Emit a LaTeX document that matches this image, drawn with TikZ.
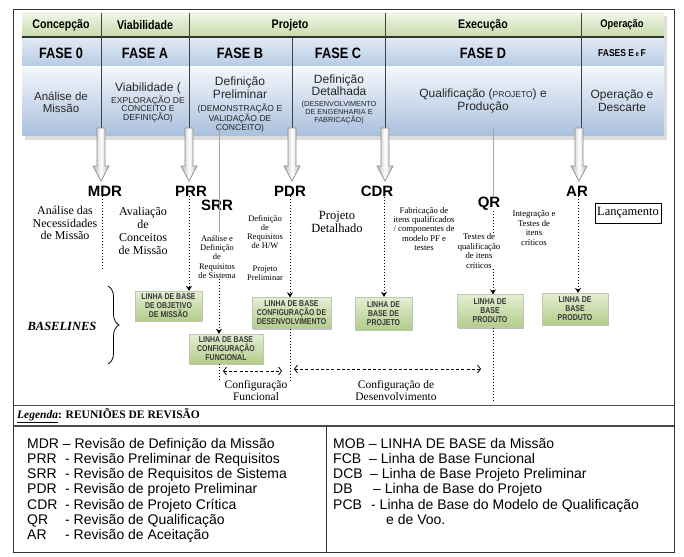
\documentclass[tikz,border=0pt]{standalone}
\usepackage{fontspec}
\setmainfont{Liberation Serif}
\setsansfont{Liberation Sans}
\newfontfamily\narrowfont[FakeStretch=0.85]{Liberation Sans}
\newfontfamily\condfont[FakeStretch=0.82]{Liberation Sans}
\usetikzlibrary{arrows.meta,decorations.pathreplacing,shadows}
\definecolor{grTop}{HTML}{F0F5E6}
\definecolor{grBot}{HTML}{C9DCAD}
\definecolor{phTop}{HTML}{E2EAF5}
\definecolor{phBot}{HTML}{B6CAE4}
\definecolor{dsTop}{HTML}{F4F7FB}
\definecolor{dsBot}{HTML}{A9C0DE}
\definecolor{bxTop}{HTML}{E4EED3}
\definecolor{bxBot}{HTML}{B3CC8A}
\definecolor{arrG}{HTML}{8C8C8C}
\begin{document}
\begin{tikzpicture}[x=1pt,y=-1pt,
  hdr/.style={font=\narrowfont\bfseries\fontsize{12.5}{13}\selectfont, inner sep=0},
  phase/.style={font=\narrowfont\bfseries\fontsize{15}{16}\selectfont, inner sep=0},
  desc/.style={font=\sffamily\fontsize{12}{13}\selectfont, align=center, inner sep=0, text=black!85},
  descsm/.style={font=\sffamily\fontsize{8.6}{9}\selectfont, align=center, inner sep=0, text=black!85},
  rev/.style={font=\sffamily\bfseries\fontsize{15}{16}\selectfont, inner sep=0},
  sertxt/.style={font=\fontsize{12}{12.5}\selectfont, align=center, inner sep=0},
  smtxt/.style={font=\fontsize{8.5}{9.2}\selectfont, align=center, inner sep=0},
  gbox/.style={rectangle, inner sep=1pt, top color=bxTop, bottom color=bxBot,
    draw=bxBot!70!black!50, line width=0.3, align=center,
    font=\condfont\bfseries\fontsize{8.5}{9}\selectfont, text=black!78,
    drop shadow={shadow xshift=1.2pt, shadow yshift=-1.2pt, opacity=0.25, fill=black}},
  dotline/.style={dotted, line width=1},
  dotarrow/.style={dotted, line width=1, -{Stealth[length=5pt,width=6pt]}},
  dasharrow/.style={dashed, line width=0.8, dash pattern=on 3pt off 2.2pt,
    {Straight Barb[length=3pt,width=8pt]}-{Straight Barb[length=3pt,width=8pt]}},
  leg/.style={font=\sffamily\fontsize{14}{15}\selectfont, inner sep=0, anchor=base west}
]
\useasboundingbox (0,0) rectangle (684,556);
% outer frame
\draw[line width=1, black!80] (13,10) rectangle (674,552);
% header
\fill[gray!45, opacity=0.6] (25,16) rectangle (667,140);
\shade[top color=grTop, bottom color=grBot] (22,13) rectangle (664,36);
\shade[top color=phTop, bottom color=phBot] (22,37.5) rectangle (664,67);
\shade[top color=dsTop, bottom color=dsBot] (22,67) rectangle (664,136);
\draw[line width=2, black!80] (22,36.8) -- (664,36.8);
\draw[white, line width=0.6] (22,67.3) -- (664,67.3);
\foreach \dx in {101,189,385,581} \draw[black!75, line width=0.9] (\dx,13) -- (\dx,136);
\draw[black!75, line width=0.9] (292,38) -- (292,136);
% header texts
\node[hdr] (conc) at (61,25) {Concepção};
\node[hdr] (viab) at (145,25) {Viabilidade};
\node[hdr] (proj) at (290,25) {Projeto};
\node[hdr] (exec) at (483,25) {Execução};
\node[hdr, font=\narrowfont\bfseries\fontsize{11}{12}\selectfont] (oper) at (622,25) {Operação};
\node[phase] (f0) at (61,53) {FASE 0};
\node[phase] (fa) at (145,53) {FASE A};
\node[phase] (fb) at (240,53) {FASE B};
\node[phase] (fc) at (338,53) {FASE C};
\node[phase] (fd) at (483,53) {FASE D};
\node[hdr, font=\narrowfont\bfseries\fontsize{10}{11}\selectfont] (fef) at (622,53) {FASES E\,{\fontsize{7}{8}\selectfont e}\,F};
\node[desc, font=\sffamily\fontsize{11.5}{12}\selectfont] (d0) at (61,102) {Análise de\\Missão};
\node[desc] (da1) at (148,88) {Viabilidade (};
\node[descsm, font=\sffamily\fontsize{8.6}{8.8}\selectfont] (da2) at (148,109) {EXPLORAÇÃO DE\\CONCEITO E\\DEFINIÇÃO)};
\node[desc] (db1) at (240,88) {Definição\\Preliminar};
\node[descsm] (db2) at (240,118) {(DEMONSTRAÇÃO E\\VALIDAÇÃO DE\\CONCEITO)};
\node[desc, font=\sffamily\fontsize{12}{11.5}\selectfont] (dc1) at (339,85) {Definição\\Detalhada};
\node[descsm, font=\sffamily\fontsize{7.3}{8}\selectfont] (dc2) at (339,113) {(DESENVOLVIMENTO\\DE ENGENHARIA E\\FABRICAÇÃO)};
\node[desc, font=\sffamily\fontsize{12}{13.5}\selectfont] (dd) at (483,101) {Qualificação ({\fontsize{8.5}{9}\selectfont PROJETO}) e\\Produção};
\node[desc, font=\sffamily\fontsize{12}{13.5}\selectfont] (de) at (622,101) {Operação e\\Descarte};
% thin gray guide lines
\coordinate (srrtop) at (219,128);
\coordinate (qrtop) at (493,128);
% big hollow arrows
\foreach \ax in {101,189,292,385,579}
  \path[draw=arrG, line width=0.7, left color=gray!55, right color=gray!55, middle color=white]
    (\ax-4,128) -- (\ax+4,128) -- (\ax+4,166) -- (\ax+8,166) -- (\ax,181)
    -- (\ax-8,166) -- (\ax-4,166) -- cycle;
% review labels
\node[rev] (mdr) at (105,191) {MDR};
\node[rev] (prr) at (191,191) {PRR};
\node[rev] (srr) at (217,205) {SRR};
\node[rev] (pdr) at (290,191) {PDR};
\node[rev] (cdr) at (377,191) {CDR};
\node[rev] (qr) at (489,204) {QR};
\node[rev] (ar) at (577,191) {AR};
\draw[gray!70, line width=0.8] (srrtop) -- (219,232);
\draw[gray!70, line width=0.8] (qrtop) -- (493,196);
% descriptive texts
\node[sertxt] (t1) at (65,223) {Análise das\\Necessidades\\de Missão};
\node[sertxt, font=\fontsize{12}{13}\selectfont] (t2) at (143,231) {Avaliação\\de\\Conceitos\\de Missão};
\node[smtxt] (t3) at (217,257) {Análise e\\Definição\\de\\Requisitos\\de Sistema};
\node[smtxt] (t4) at (265,232) {Definição\\de\\Requisitos\\de H/W};
\node[smtxt] (t5) at (265,273) {Projeto\\Preliminar};
\node[sertxt, font=\fontsize{12.5}{13}\selectfont] (t6) at (337,222) {Projeto\\Detalhado};
\node[smtxt, font=\fontsize{8.7}{9.3}\selectfont] (t7) at (424,229) {Fabricação de\\itens qualificados\\/ componentes de\\modelo PF e\\testes};
\node[smtxt, font=\fontsize{8.7}{9.5}\selectfont] (t8) at (479,251) {Testes de\\qualificação\\de itens\\críticos};
\node[smtxt, font=\fontsize{8.7}{9.7}\selectfont] (t9) at (534,228) {Integração e\\Testes de\\itens\\críticos};
\node[draw, line width=0.8, font=\fontsize{12.5}{13}\selectfont, minimum width=66, minimum height=20, inner sep=0] (lanc) at (628,213) {Lançamento};
% baseline boxes
\node[gbox, minimum width=67, minimum height=30] (mob) at (168.5,306) {LINHA DE BASE\\DE OBJETIVO\\DE MISSÃO};
\node[gbox, minimum width=79, minimum height=31] (dcb) at (291.5,313) {LINHA DE BASE\\CONFIGURAÇÃO DE\\DESENVOLVIMENTO};
\node[gbox, minimum width=74, minimum height=30] (fcb) at (226,349) {LINHA DE BASE\\CONFIGURAÇÃO\\FUNCIONAL};
\node[gbox, minimum width=57, minimum height=33] (db) at (383.5,313.5) {LINHA DE\\BASE DE\\PROJETO};
\node[gbox, minimum width=66, minimum height=33] (pcb) at (490,311) {LINHA DE\\BASE\\PRODUTO};
\node[gbox, minimum width=66, minimum height=32] (pcbr) at (575,309) {LINHA DE\\BASE\\PRODUTO};
% x positions of the review lines
\coordinate (xmdr) at (102,0);
\coordinate (xprr) at (189,0);
\coordinate (xsrr) at (219,0);
\coordinate (xpdr) at (290,0);
\coordinate (xcdr) at (384,0);
\coordinate (xqr) at (493,0);
\coordinate (xar) at (578,0);
\coordinate (mdrend) at (102,270);
\draw[dotline] (xmdr |- mdr.south) -- (mdrend);
\draw[dotarrow] (xprr |- prr.south) -- (xprr |- mob.north);
\draw[dotarrow] (xsrr |- t3.south) -- (xsrr |- fcb.north);
\draw[dotarrow] (xpdr |- pdr.south) -- (xpdr |- dcb.north);
\draw[dotarrow] (xcdr |- cdr.south) -- (xcdr |- db.north);
\draw[dotline] (xqr |- qr.south) -- (xqr |- t8.north);
\draw[dotarrow] (xqr |- t8.south) -- (xqr |- pcb.north);
\draw[dotarrow] (xar |- ar.south) -- (xar |- pcbr.north);
% below boxes
\coordinate (fcbend) at (219,380);
\coordinate (dcbend) at (290,382);
\coordinate (pcbend) at (493,402);
\draw[dotline] (fcbend |- fcb.south) -- (fcbend);
\draw[dotline] (dcbend |- dcb.south) -- (dcbend);
\draw[dotline] (pcbend |- pcb.south) -- (pcbend);
\coordinate (cfl) at (223,371);
\coordinate (cfr) at (282,371);
\coordinate (cdl) at (294,369);
\coordinate (cdr2) at (481,369);
\draw[dasharrow] (cfl) -- (cfr);
\draw[dasharrow] (cdl) -- (cdr2);
\node[sertxt, font=\fontsize{11.5}{12}\selectfont] (cfun) at (256,391) {Configuração\\Funcional};
\node[sertxt, font=\fontsize{11.5}{12}\selectfont] (cdes) at (396,391) {Configuração de\\Desenvolvimento};
% baselines brace
\node[font=\bfseries\itshape\fontsize{12.5}{13}\selectfont, inner sep=0] (bl) at (62,326) {BASELINES};
\draw[line width=0.8, decorate, decoration={brace, amplitude=11pt}] (108,286) -- (108,364);
% legend
\draw[line width=1.2, black!70] (13,405.5) -- (674,405.5);
\draw[line width=1.2, black!70] (13,426) -- (674,426);
\draw[line width=1, black!80] (326,426) -- (326,552);
\node[font=\bfseries\fontsize{11.5}{12}\selectfont, inner sep=0, anchor=west] (legt) at (17,415.5) {\underline{\textit{Legenda}}: REUNIÕES DE REVISÃO};
\node[leg] (l1) at (27,448) {MDR – Revisão de Definição da Missão};
\node[leg] (l2a) at (27,463.3) {PRR};
\node[leg] (l2b) at (65,463.3) {- Revisão Preliminar de Requisitos};
\node[leg] (l3a) at (27,478.6) {SRR};
\node[leg] (l3b) at (65,478.6) {- Revisão de Requisitos de Sistema};
\node[leg] (l4a) at (27,493.9) {PDR};
\node[leg] (l4b) at (65,493.9) {- Revisão de projeto Preliminar};
\node[leg] (l5a) at (27,509.2) {CDR};
\node[leg] (l5b) at (65,509.2) {- Revisão de Projeto Crítica};
\node[leg] (l6a) at (27,524.5) {QR};
\node[leg] (l6b) at (65,524.5) {- Revisão de Qualificação};
\node[leg] (l7a) at (27,539.8) {AR};
\node[leg] (l7b) at (65,539.8) {- Revisão de Aceitação};
\node[leg] (r1) at (333,448) {MOB – LINHA DE BASE da Missão};
\node[leg] (r2a) at (333,463.3) {FCB};
\node[leg] (r2b) at (369,463.3) {– Linha de Base Funcional};
\node[leg] (r3a) at (333,478.6) {DCB};
\node[leg] (r3b) at (370,478.6) {– Linha de Base Projeto Preliminar};
\node[leg] (r4a) at (333,493.9) {DB};
\node[leg] (r4b) at (373,493.9) {– Linha de Base do Projeto};
\node[leg] (r5a) at (333,509.2) {PCB};
\node[leg] (r5b) at (371,509.2) {- Linha de Base do Modelo de Qualificação};
\node[leg] (r6) at (386,524.5) {e de Voo.};
\end{tikzpicture}
\end{document}
